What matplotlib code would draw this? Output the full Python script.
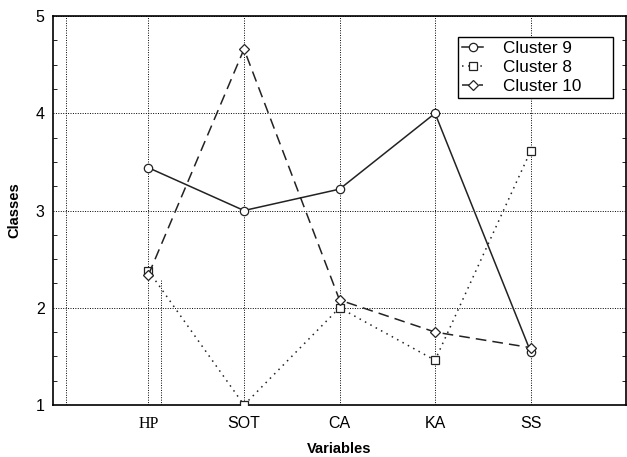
import matplotlib
matplotlib.use("Agg")
import matplotlib.pyplot as plt
from matplotlib.ticker import MultipleLocator

categories = ["HP", "SOT", "CA", "KA", "SS"]
cluster9 = [3.44, 3.0, 3.22, 4.0, 1.55]
cluster8 = [2.38, 1.0, 2.0, 1.46, 3.61]
cluster10 = [2.34, 4.66, 2.08, 1.75, 1.59]

plt.rcParams['font.family'] = ['Liberation Sans', 'DejaVu Sans']
fig = plt.figure(figsize=(6.27, 4.57), dpi=100)
ax = fig.add_axes([0.0845, 0.1138, 0.914, 0.851])

x = list(range(1, len(categories) + 1))
ax.plot(x, cluster9, color='#222222', lw=1.1, ls='-', marker='o', ms=6,
        mfc='white', mec='#222222', mew=0.9, label='Cluster 9', zorder=3)
ax.plot(x, cluster8, color='#222222', lw=1.1, ls=(0, (1, 3)), marker='s', ms=6,
        mfc='white', mec='#222222', mew=0.9, label='Cluster 8', zorder=3)
ax.plot(x, cluster10, color='#222222', lw=1.1, ls=(0, (7, 4)), marker='D', ms=5,
        mfc='white', mec='#222222', mew=0.9, label='Cluster 10', zorder=3)

ax.set_xlim(0, 6)
ax.set_ylim(1, 5)
ax.set_xticks(x)
ax.set_xticklabels(categories, fontsize=11.5)
ax.get_xticklabels()[0].set_fontfamily('Liberation Serif')
ax.set_yticks([1, 2, 3, 4, 5])
ax.yaxis.set_minor_locator(MultipleLocator(0.25))
ax.tick_params(axis='y', labelsize=11.5, direction='in', length=0, pad=6)
ax.tick_params(axis='y', which='minor', direction='in', length=3, left=True, right=True)
ax.tick_params(axis='x', length=0, pad=8)

ax.grid(True, color='black', ls=(0, (1, 1.5)), lw=0.7)
ax.axvline(0.135, color='black', ls=(0, (1, 1.5)), lw=0.7)
ax.vlines(1.135, 1, 2.3, color='black', ls=(0, (1, 1.5)), lw=0.7)

for s in ax.spines.values():
    s.set_linewidth(1.2)

ax.set_xlabel('Variables', fontsize=10.5, fontweight='bold', labelpad=7)
ax.set_ylabel('Classes', fontsize=10.5, fontweight='bold', labelpad=10)

leg = ax.legend(loc='upper left', bbox_to_anchor=(0.707, 0.789, 0.27, 0.157),
                mode='expand', fontsize=12.3,
                frameon=True, fancybox=False, edgecolor='black', framealpha=1,
                handlelength=1.2, borderpad=0.25, labelspacing=0.22,
                handletextpad=1.2, borderaxespad=0)
leg.get_frame().set_linewidth(1.0)

fig.savefig('out.png', dpi=100)
